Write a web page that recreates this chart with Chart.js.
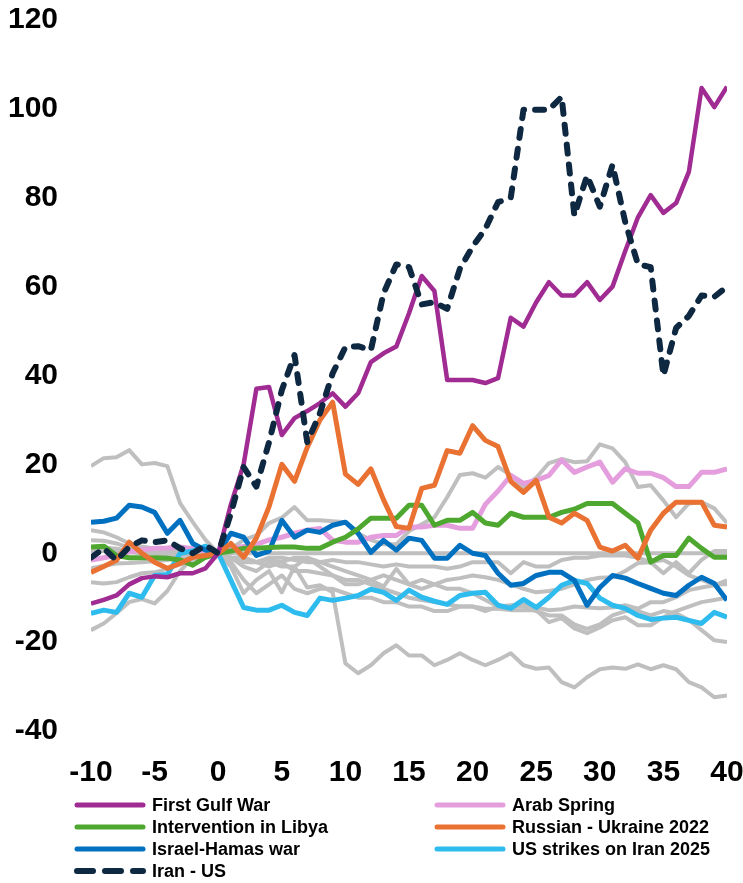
<!DOCTYPE html>
<html><head><meta charset="utf-8">
<script src="https://cdn.jsdelivr.net/npm/chart.js@4.4.1/dist/chart.umd.min.js"></script>
<style>
html,body{margin:0;padding:0;background:#fff;width:743px;height:883px;overflow:hidden;}
#wrap{position:absolute;left:0;top:0;width:743px;height:795px;}
#legend{position:absolute;left:0;top:0;width:743px;height:883px;font-family:"Liberation Sans",Arial,sans-serif;font-weight:bold;font-size:18px;color:#000;}
.item{position:absolute;height:22px;display:flex;align-items:center;white-space:nowrap;}
.item canvas{margin-right:5px;}
</style></head>
<body>
<div id="wrap"><canvas id="c" width="743" height="795"></canvas></div>
<div id="legend"></div>
<script>
const days = [-10,-9,-8,-7,-6,-5,-4,-3,-2,-1,0,1,2,3,4,5,6,7,8,9,10,11,12,13,14,15,16,17,18,19,20,21,22,23,24,25,26,27,28,29,30,31,32,33,34,35,36,37,38,39,40];
const xTicks = [-10,-5,0,5,10,15,20,25,30,35,40];
const yTicks = [-40,-20,0,20,40,60,80,100,120];

const firstGulfWar = [-11.3,-10.5,-9.5,-7,-5.6,-5.2,-5.4,-4.5,-4.5,-3.4,0, 11,20,37,37.4,26.6,30.4,32,33.8,36,33, 36,43,45,46.5,54,62.4,59,39,39,39, 38.3,39.4,53,51,56.5,61,58,58,61,57, 60,68,75.6,80.6,76.6,78.8,85.8,104.7,100.4,105];
const arabSpring = [-1.5,-1,-0.5,0.3,0.8,1.1,1.2,1.4,1,0.5,0, 1,1.5,2,3,3.6,4.5,5.2,5.6,2.9,2.5, 2.5,3.6,4,4,5.9,5.9,6.3,6.3,5.6,5.6, 11,14,17.5,15.7,16.4,17.5,21,18.2,19.4,20.5, 16,19,18,18,17,15,15,18.2,18.2,19];
const libya = [1.4,1.6,-0.5,-1,-1,-1,-1.1,-1.5,-2.7,-0.9,0, 0.5,1.1,1.1,1.3,1.4,1.4,1.1,1.1,2.5,3.6, 5.5,7.9,7.9,7.9,10.8,10.8,6.3,7.4,7.4,9.2, 6.8,6.3,9,8.1,8.1,8.1,9.2,9.9,11.2,11.2, 11.2,9,6.8,-2,-0.5,-0.5,3.4,1.1,-0.9,-0.9];
const russiaUkraine = [-4.3,-3,-1.6,2.5,0,-2,-3.4,-2.3,-0.9,-0.5,0, 2.2,-0.9,3.4,10.5,20,16.2,23.8,30,34,17.8, 15.5,19,12,6,5.6,14.6,15.3,23.1,22.5,28.7, 25.4,24,16.2,13.7,16.4,8.1,6.8,9,7.4,1.4, 0.5,1.8,-1.1,5.2,9,11.5,11.5,11.5,6.3,5.9];
const israelHamas = [7,7.2,7.9,10.8,10.4,9.2,4.5,7.4,2.2,0.7,0, 4.5,3.6,-0.5,0.5,7.4,3.6,5.2,4.7,6.3,7, 4.5,0.2,2.9,0.7,3.4,2.9,-1.1,-1.1,1.8,0, -0.5,-4.5,-7.2,-6.8,-5,-4.3,-4.3,-6.1,-11.7,-7.7, -5,-5.6,-6.8,-7.9,-9,-9.5,-7.2,-5.4,-6.8,-10.6];
const usStrikes = [-13.5,-12.8,-13.3,-9,-9.9,-5,-4.8,0,0.5,1.6,0, -6.1,-12.2,-12.8,-12.8,-11.7,-13.3,-14,-10.1,-10.6,-10.1, -9.5,-8.1,-8.8,-10.6,-8.3,-9.9,-10.8,-11.5,-9.5,-9, -8.8,-11.7,-12.4,-10.4,-12.2,-9.9,-7.2,-6.1,-6.8,-10.1, -11.7,-12.4,-14,-14.9,-14.6,-14.4,-15.1,-15.8,-13.3,-14.4];
const iranUS = [-1,1.1,-1.6,1.4,2.9,2.5,2.9,1.1,0,1.8,0, 9,19.4,15,25,36.7,44.6,25,31.5,40.5,46.4, 46.6,45.7,58.5,65,64.4,56,56.5,55,64,69, 73,79,80,99.8,99.8,99.8,102.7,76,85,78, 87.4,74.5,65,64.4,40,50.7,53.4,58,57.7,60];

const other1 = [19.6,21.4,21.6,23.2,20,20.3,19.6,11.3,7,3,0, 1,3,4,6.8,8,10.4,7.4,7.4,7.2,7, 4.5,3,2,2,5,6.5,8.1,12.6,17.6,18, 17,19.4,17.6,14.9,17,20.3,21.2,20.5,20.7,24.5, 23.6,20.5,14.9,15.3,11.9,8.1,11.2,11.5,10.1,6.8];
const other2 = [0.5,0.5,0.3,0.2,0,0,0,0,0,0,0, 0,0,0,0,0,0,0,0,0,0, 0,0,0,0,0,0,0,0,0,0, 0,0,0,0,0,0,0,0,0,0, 0,0,0,0,0,0,0,0,0,0];
const other3 = [5.2,4.7,3.6,2.2,1.5,1,0.8,0.5,0.3,0,0, -1,-3,-4,-2,-3,-3,-7.7,-7.2,-8.8,-24.8, -27,-25.2,-22.5,-20.7,-23,-23,-25.2,-24,-22.5,-24, -25.2,-24,-22.5,-25.2,-26,-25.7,-29,-30.2,-27.9,-26.1, -25.7,-26,-25,-26.1,-25.2,-26.1,-29,-30.2,-32.4,-32];
const other4 = [-17.3,-15.8,-13.5,-11,-10.3,-11.3,-8.5,-4,-1,0,0, -2,-6,-9,-7,-5,-8,-9,-8,-8,-9, -10,-10,-11,-11,-12,-12,-13,-13,-12,-12, -13,-12,-12,-12,-13,-14,-14,-16,-17,-16, -14,-13,-13,-14,-13,-13.5,-15,-17.3,-19.6,-20];
const other5 = [-6.5,-6.8,-6.5,-5.4,-4.5,-4.3,-3.5,-2.5,-1.5,-0.5,0, -1,-2,-2,-1.5,-2,-1,-1,-2,-3,-4, -5,-6,-5,-6,-7,-6,-7,-8,-8,-9, -10.5,-12,-11.7,-11.5,-12.2,-12.8,-12.6,-12,-12.2,-12.4, -12.2,-11.7,-12.5,-11,-11,-9.9,-8.3,-7.7,-7.2,-6.1];
const other6 = [-3.4,-2.8,-2.3,-2.2,-2,-1.8,-1.5,-1.2,-1,-0.5,0, -1,-1,-2,-1,-1,-1.5,-2,-2,-1.5,-2, -2,-2.5,-3,-2.5,-3,-3,-3,-3.5,-3,-2, -2,-2,-4.5,-2,-3,-3,-1.5,-1,-1,-0.5, -0.5,-0.5,-1,-2,-4.5,-2,-4.5,-1.5,0.5,0.5];
const other7 = [2.9,2.8,2.2,1.2,0.5,0.2,0,0.5,1,0.5,0, -3,-9,-6,-4,-8.8,-3,-1,-3,-5,-6, -6,-7,-8,-9,-10,-10.5,-11,-11.5,-12,-12, -12.5,-12.5,-12.8,-12.8,-12.8,-15.5,-14.6,-16.9,-18,-16.7, -15.1,-14.4,-16.2,-16.2,-14.4,-13,-12,-11,-10.5,-10];
const other8 = [1.4,1.3,1,0.5,0.5,0,-0.5,-0.5,0,0,0, 1,-1,-2,-3,-2,-4,-4,-4.5,-5,-7, -7,-6,-7.5,-3.5,-7,-8,-7,-6,-5.6,-5, -5.4,-6,-7,-8,-8.8,-8.5,-8,-7,-6,-5.5, -5.4,-4,-2.2,-2,-1.5,-3,-5,-6,-7,-7];

const named = [
  {label:'Iran - US', data:iranUS, color:'#0E2841', width:6, dash:[9,11]},
  {label:'First Gulf War', data:firstGulfWar, color:'#A02B93', width:4.5},
  {label:'Russian - Ukraine 2022', data:russiaUkraine, color:'#E97132', width:5},
  {label:'Intervention in Libya', data:libya, color:'#4EA72E', width:5},
  {label:'Israel-Hamas war', data:israelHamas, color:'#0070C0', width:5},
  {label:'US strikes on Iran 2025', data:usStrikes, color:'#2EBBEE', width:5},
  {label:'Arab Spring', data:arabSpring, color:'#E59EDD', width:5}
];
const others = [other1,other2,other3,other4,other5,other6,other7,other8];
const legendOrder = ['First Gulf War','Arab Spring','Intervention in Libya','Russian - Ukraine 2022','Israel-Hamas war','US strikes on Iran 2025','Iran - US'];

const toPts = arr => days.map((d,i)=>({x:d,y:arr[i]}));
const datasets = [];
named.forEach(s=>datasets.push({label:s.label,data:toPts(s.data),borderColor:s.color,backgroundColor:s.color,borderWidth:s.width,borderDash:s.dash||[],borderCapStyle:s.dash?'round':'butt',borderJoinStyle:'round',pointRadius:0,tension:0,fill:false}));
others.forEach((a,i)=>datasets.push({label:'_other'+i,data:toPts(a),borderColor:'#BFBFBF',borderWidth:4,borderJoinStyle:'round',pointRadius:0,tension:0,fill:false}));

const FONT = '"Liberation Sans", Arial, sans-serif';
const chart = new Chart(document.getElementById('c'), {
  type:'line',
  data:{datasets},
  options:{
    responsive:false, animation:false,
    layout:{padding:{top:20,left:0,right:0,bottom:0}},
    plugins:{legend:{display:false},tooltip:{enabled:false}},
    scales:{
      x:{type:'linear',min:xTicks[0],max:xTicks[xTicks.length-1],
        afterBuildTicks:s=>{s.ticks=xTicks.map(v=>({value:v}));},
        ticks:{font:{family:FONT,size:30,weight:'bold'},color:'#000',padding:24,maxRotation:0},
        grid:{display:false,drawTicks:false},border:{display:false},
        afterFit:s=>{s.paddingRight=16;s.paddingLeft=0;s.height=64;}},
      y:{min:yTicks[0],max:yTicks[yTicks.length-1],
        afterBuildTicks:s=>{s.ticks=yTicks.map(v=>({value:v}));},
        ticks:{font:{family:FONT,size:30,weight:'bold'},color:'#000',padding:33},
        grid:{display:false,drawTicks:false},border:{display:false},
        afterFit:s=>{s.width=91;s.paddingTop=0;s.paddingBottom=0;}}
    }
  }
});

// HTML legend built from the chart's datasets
const lg = document.getElementById('legend');
legendOrder.forEach((name,i)=>{
  const ds = chart.data.datasets.find(d=>d.label===name);
  const col = i%2, row = Math.floor(i/2);
  const item = document.createElement('div');
  item.className='item';
  item.style.left = (col===0?73:433)+'px';
  item.style.top = (805-11+row*22)+'px';
  const cv = document.createElement('canvas');
  cv.width=74; cv.height=22;
  const ctx = cv.getContext('2d');
  ctx.strokeStyle = ds.borderColor; ctx.lineWidth = 5; ctx.lineCap='round';
  if (ds.borderDash.length){ ctx.lineWidth=6; ctx.setLineDash([16,12]); }
  ctx.beginPath(); ctx.moveTo(4,11); ctx.lineTo(70,11); ctx.stroke();
  item.appendChild(cv);
  const sp = document.createElement('span'); sp.textContent = name;
  item.appendChild(sp);
  lg.appendChild(item);
});
</script>
</body></html>
